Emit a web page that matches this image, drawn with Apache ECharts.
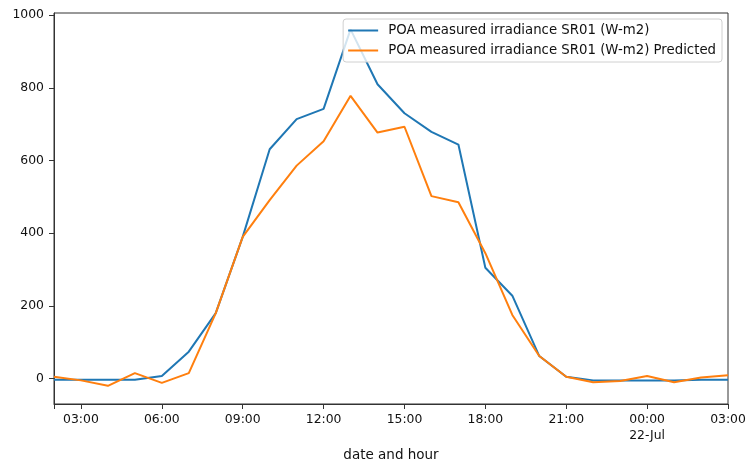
<!DOCTYPE html>
<html>
<head>
<meta charset="utf-8">
<script src="https://cdn.jsdelivr.net/npm/echarts@6/dist/echarts.min.js"></script>
<style>html,body{margin:0;padding:0;background:#fff}#c{width:746px;height:463px}</style>
</head>
<body>
<div id="c"></div>
<script>
// hours since 21-Jul 00:00
var hours = [2,3,4,5,6,7,8,9,10,11,12,13,14,15,16,17,18,19,20,21,22,23,24,25,26,27];
var measured = [-3,-3,-3,-3,7,74,180,390,631,714,742,961,810,730,679,644,305,228,62,5,-5,-5,-5,-5,-3,-3];
var predicted = [5,-5,-20,15,-12,15,180,390,491,586,653,778,677,693,502,485,345,175,62,5,-10,-7,7,-10,3,9];
var xTicks = [2,3,6,9,12,15,18,21,24,27];
var xLabelTicks = [3,6,9,12,15,18,21,24,27];
var yTicks = [0,200,400,600,800,1000];
var seriesNames = ['POA measured irradiance SR01 (W-m2)','POA measured irradiance SR01 (W-m2) Predicted'];
var xName = 'date and hour';

function pairs(v){ return hours.map(function(h,i){ return [h, v[i]]; }); }
function fmtHour(h){
  var hh = h % 24; var s = (hh<10?'0':'') + hh + ':00';
  if (h === 24) s += '\n22-Jul';
  return s;
}
var font = 'DejaVu Sans';
var chart = echarts.init(document.getElementById('c'), null, {renderer:'canvas'});
chart.setOption({
  animation:false,
  backgroundColor:'#fff',
  grid:{left:54, right:18, top:13, bottom:59, show:true, borderColor:'#333', borderWidth:1,
        backgroundColor:'transparent', containLabel:false, outerBoundsMode:'none'},
  legend:{
    show:true, orient:'vertical', right:24, top:19,
    itemWidth:30, itemHeight:2, itemGap:5,
    padding:[4,6,4,5],
    borderColor:'#d0d0d0', borderWidth:1, borderRadius:3,
    backgroundColor:'rgba(255,255,255,0.8)',
    textStyle:{fontFamily:font, fontSize:13.3, color:'#111', lineHeight:15, padding:[0,0,0,5]},
    icon:'rect',
    data:seriesNames
  },
  xAxis:{
    type:'value', min:2, max:27,
    name:xName, nameLocation:'middle', nameGap:41,
    nameTextStyle:{fontFamily:font, fontSize:13.5, color:'#111'},
    axisLine:{show:true, onZero:false, lineStyle:{color:'#333', width:1}},
    axisTick:{show:true, length:5, customValues:xTicks, lineStyle:{color:'#333'}},
    axisLabel:{show:true, customValues:xLabelTicks, margin:8, fontFamily:font, fontSize:12.4, color:'#111', lineHeight:16,
      formatter:function(v){ return fmtHour(Math.round(v)); }},
    splitLine:{show:false}
  },
  yAxis:{
    type:'value', min:-70, max:1006,
    axisLine:{show:true, lineStyle:{color:'#333', width:1}},
    axisTick:{show:true, length:5, customValues:yTicks, lineStyle:{color:'#333'}},
    axisLabel:{show:true, customValues:yTicks, margin:10, fontFamily:font, fontSize:12.4, color:'#111',
      formatter:function(v){ return String(Math.round(v)); }},
    splitLine:{show:false}
  },
  series:[
    {name:seriesNames[0], type:'line', data:pairs(measured), showSymbol:false, symbol:'none',
     lineStyle:{color:'#1f77b4', width:2}, itemStyle:{color:'#1f77b4'}, z:2},
    {name:seriesNames[1], type:'line', data:pairs(predicted), showSymbol:false, symbol:'none',
     lineStyle:{color:'#ff7f0e', width:2}, itemStyle:{color:'#ff7f0e'}, z:3}
  ]
});
</script>
</body>
</html>
